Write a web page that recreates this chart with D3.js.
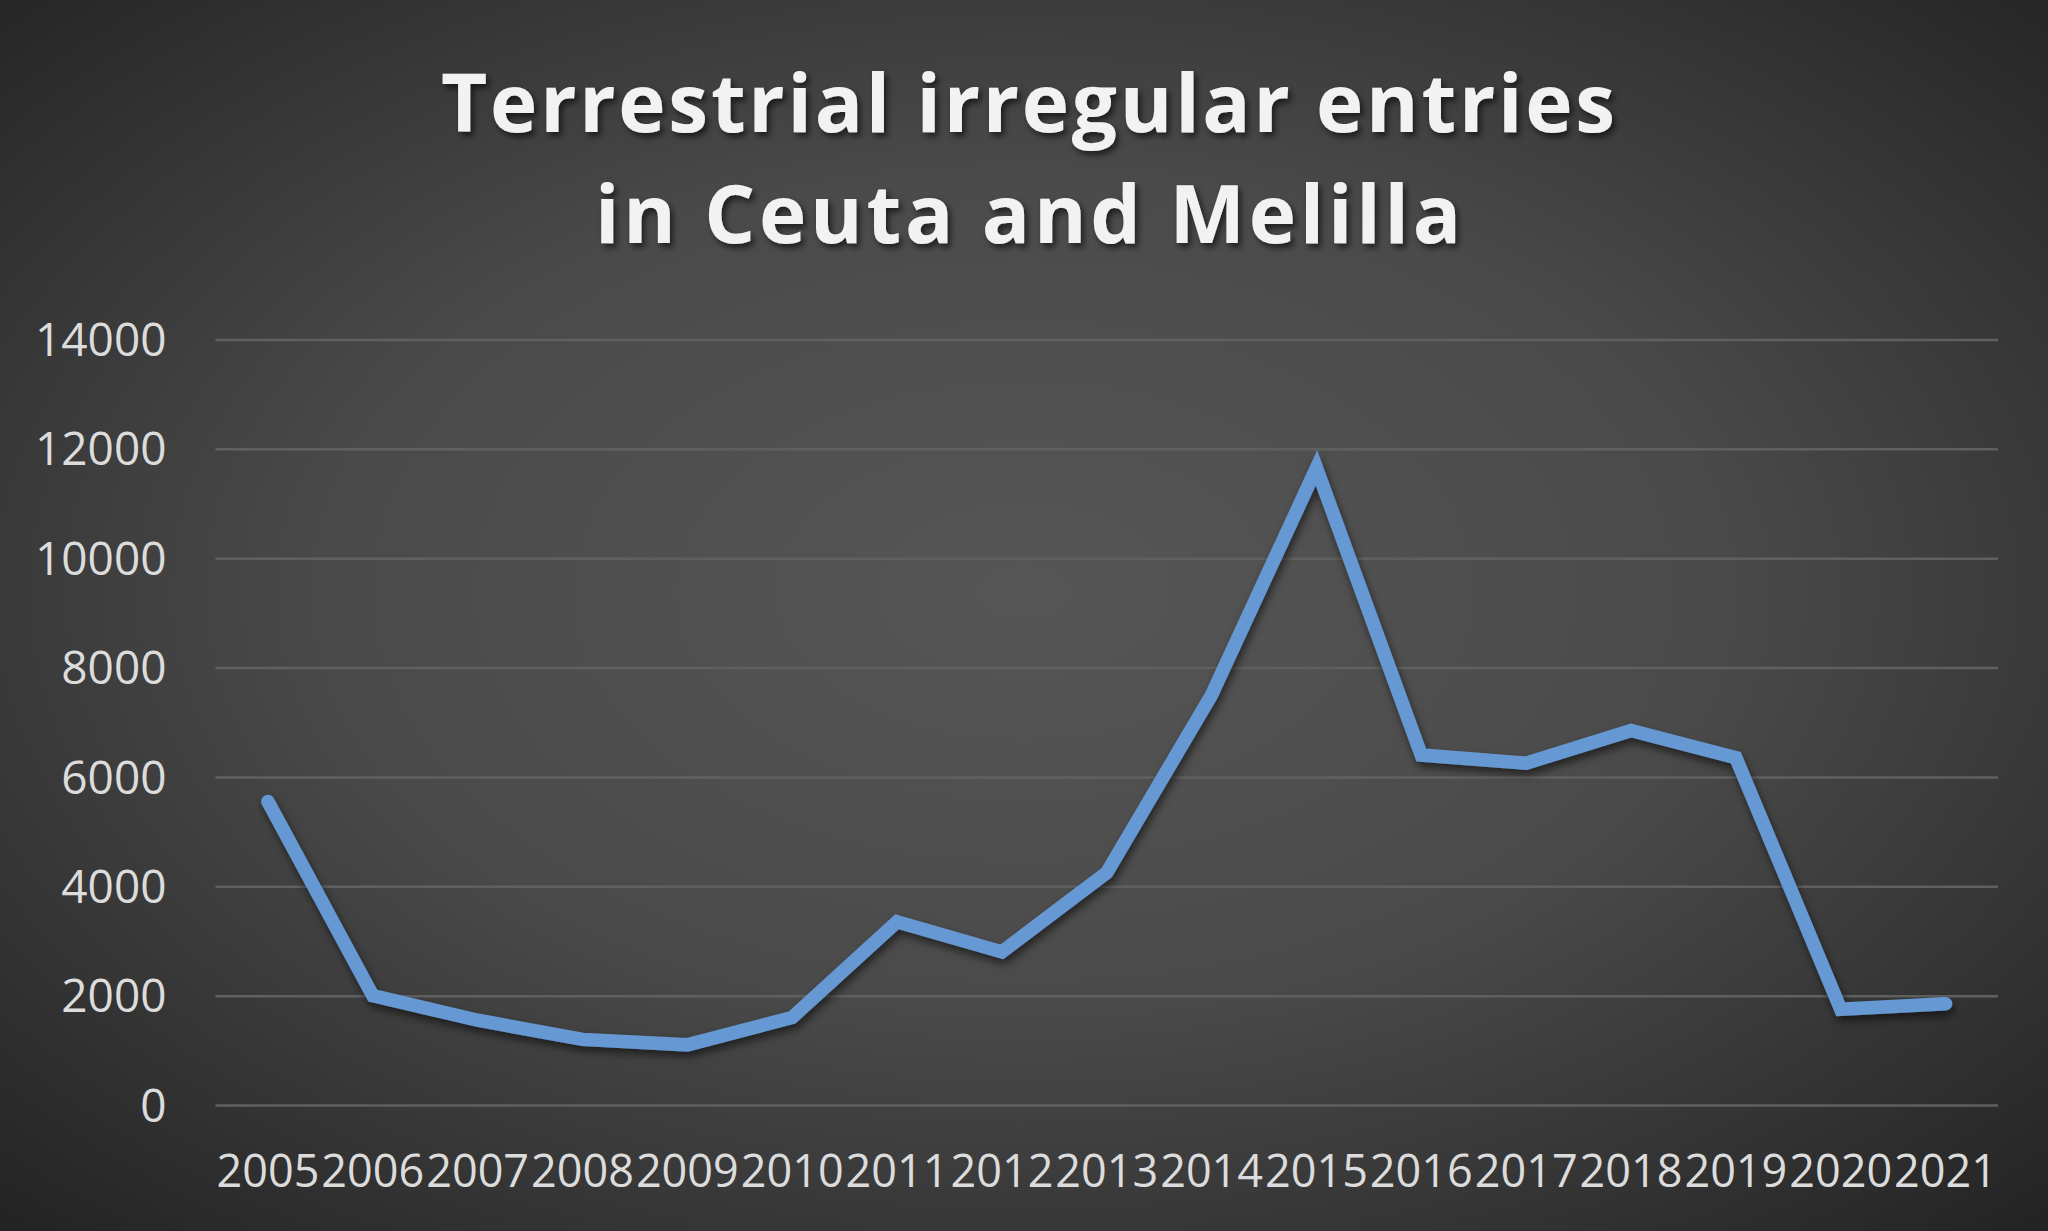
<!DOCTYPE html>
<html>
<head>
<meta charset="utf-8">
<script src="https://cdn.jsdelivr.net/npm/d3@7"></script>
<style>
  html, body { margin: 0; padding: 0; background: #2a2a2a; }
  svg { display: block; }
</style>
</head>
<body>
<svg id="chart" width="2048" height="1231"></svg>
<script>
const titleLines = ["Terrestrial irregular entries", "in Ceuta and Melilla"];
const years = ["2005","2006","2007","2008","2009","2010","2011","2012","2013","2014","2015","2016","2017","2018","2019","2020","2021"];
const entries = [5550, 2000, 1550, 1200, 1100, 1600, 3350, 2800, 4250, 7500, 11650, 6400, 6250, 6850, 6350, 1750, 1850];
const yTicks = [0, 2000, 4000, 6000, 8000, 10000, 12000, 14000];

const W = 2048, H = 1231;
const margin = { left: 215.5, right: 50, top: 339.5, bottom: 126 };
const svg = d3.select("#chart");
const defs = svg.append("defs");

const bg = defs.append("radialGradient").attr("id", "bg")
  .attr("cx", "50%").attr("cy", "48%").attr("r", "75%");
bg.append("stop").attr("offset", "0%").attr("stop-color", "#565656");
bg.append("stop").attr("offset", "45%").attr("stop-color", "#4a4a4a");
bg.append("stop").attr("offset", "100%").attr("stop-color", "#202020");

const tShadow = defs.append("filter").attr("id", "tshadow")
  .attr("x", "-10%").attr("y", "-30%").attr("width", "120%").attr("height", "160%");
tShadow.append("feDropShadow").attr("dx", 3).attr("dy", 4).attr("stdDeviation", 3)
  .attr("flood-color", "#000").attr("flood-opacity", 0.6);

const lShadow = defs.append("filter").attr("id", "lshadow")
  .attr("x", "-10%").attr("y", "-10%").attr("width", "120%").attr("height", "130%");
lShadow.append("feDropShadow").attr("dx", 2).attr("dy", 5).attr("stdDeviation", 4)
  .attr("flood-color", "#000").attr("flood-opacity", 0.55);

svg.append("rect").attr("width", W).attr("height", H).attr("fill", "url(#bg)");

const x = d3.scaleBand().domain(years).range([margin.left, 1998]).padding(0);
const y = d3.scaleLinear().domain([0, 14000]).range([1105, margin.top]);

// gridlines
const yAxis = d3.axisLeft(y).tickValues(yTicks).tickSize(-(1998 - margin.left)).tickPadding(49).tickFormat(d3.format("d"));
const gy = svg.append("g").attr("transform", `translate(${margin.left},0)`).call(yAxis);
gy.select(".domain").remove();
gy.selectAll(".tick line").attr("stroke", "#606060").attr("stroke-width", 2.5);
gy.selectAll(".tick text")
  .attr("fill", "#dcdcdc")
  .attr("font-family", "'Open Sans', sans-serif")
  .attr("font-size", 46)
  .attr("dy", "0.35em");

// x axis
const xAxis = d3.axisBottom(x).tickSize(0).tickPadding(0);
const gx = svg.append("g").attr("transform", `translate(0,1105)`).call(xAxis);
gx.select(".domain").remove();
gx.selectAll(".tick text")
  .attr("fill", "#dcdcdc")
  .attr("font-family", "'Open Sans', sans-serif")
  .attr("font-size", 45)
  .attr("dy", 0)
  .attr("y", 82);

// line
const line = d3.line()
  .x((d, i) => x(years[i]) + x.bandwidth() / 2)
  .y(d => y(d));
svg.append("path")
  .datum(entries)
  .attr("d", line)
  .attr("fill", "none")
  .attr("stroke", "#6699d4")
  .attr("stroke-width", 13.5)
  .attr("stroke-linejoin", "miter")
  .attr("stroke-linecap", "round")
  .attr("filter", "url(#lshadow)");

// title
const titleTargets = [1174, 866];
const baselines = [132, 243];
const tg = svg.append("g").attr("filter", "url(#tshadow)");
titleLines.forEach((t, i) => {
  const txt = tg.append("text")
    .attr("x", 1028)
    .attr("y", baselines[i])
    .attr("text-anchor", "middle")
    .attr("font-family", "'Open Sans', sans-serif")
    .attr("font-weight", "bold")
    .attr("font-size", 80)
    .attr("fill", "#f2f2f2")
    .text(t);
  const w = txt.node().getComputedTextLength();
  const ls = (titleTargets[i] - w) / (t.length - 1);
  txt.attr("letter-spacing", ls);
  txt.attr("x", 1028 + ls / 2);
});
</script>
</body>
</html>
